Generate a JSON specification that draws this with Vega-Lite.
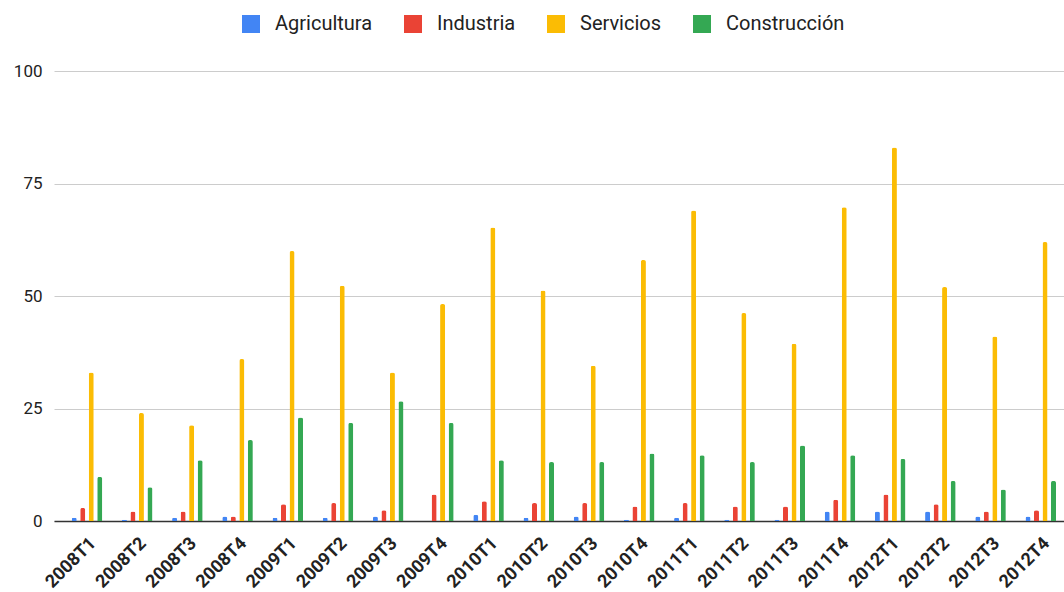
{
  "$schema": "https://vega.github.io/schema/vega-lite/v6.json",
  "width": 1010,
  "height": 450,
  "autosize": {"type": "none"},
  "padding": {"left": 54, "top": 71, "right": 0, "bottom": 71},
  "background": "white",
  "data": {"values": [
    {"t":"2008T1","s":"Agricultura","v":0.7},{"t":"2008T1","s":"Industria","v":2.9},{"t":"2008T1","s":"Servicios","v":33},{"t":"2008T1","s":"Construcción","v":9.8},
    {"t":"2008T2","s":"Agricultura","v":0.3},{"t":"2008T2","s":"Industria","v":2.1},{"t":"2008T2","s":"Servicios","v":24},{"t":"2008T2","s":"Construcción","v":7.5},
    {"t":"2008T3","s":"Agricultura","v":0.7},{"t":"2008T3","s":"Industria","v":2.1},{"t":"2008T3","s":"Servicios","v":21.3},{"t":"2008T3","s":"Construcción","v":13.5},
    {"t":"2008T4","s":"Agricultura","v":1.0},{"t":"2008T4","s":"Industria","v":1.0},{"t":"2008T4","s":"Servicios","v":36},{"t":"2008T4","s":"Construcción","v":18},
    {"t":"2009T1","s":"Agricultura","v":0.7},{"t":"2009T1","s":"Industria","v":3.7},{"t":"2009T1","s":"Servicios","v":60},{"t":"2009T1","s":"Construcción","v":23},
    {"t":"2009T2","s":"Agricultura","v":0.7},{"t":"2009T2","s":"Industria","v":4.0},{"t":"2009T2","s":"Servicios","v":52.3},{"t":"2009T2","s":"Construcción","v":21.8},
    {"t":"2009T3","s":"Agricultura","v":1.0},{"t":"2009T3","s":"Industria","v":2.4},{"t":"2009T3","s":"Servicios","v":33},{"t":"2009T3","s":"Construcción","v":26.6},
    {"t":"2009T4","s":"Agricultura","v":0},{"t":"2009T4","s":"Industria","v":5.9},{"t":"2009T4","s":"Servicios","v":48.2},{"t":"2009T4","s":"Construcción","v":21.8},
    {"t":"2010T1","s":"Agricultura","v":1.4},{"t":"2010T1","s":"Industria","v":4.4},{"t":"2010T1","s":"Servicios","v":65.2},{"t":"2010T1","s":"Construcción","v":13.5},
    {"t":"2010T2","s":"Agricultura","v":0.7},{"t":"2010T2","s":"Industria","v":4.0},{"t":"2010T2","s":"Servicios","v":51.2},{"t":"2010T2","s":"Construcción","v":13.1},
    {"t":"2010T3","s":"Agricultura","v":1.0},{"t":"2010T3","s":"Industria","v":4.0},{"t":"2010T3","s":"Servicios","v":34.5},{"t":"2010T3","s":"Construcción","v":13.1},
    {"t":"2010T4","s":"Agricultura","v":0.3},{"t":"2010T4","s":"Industria","v":3.2},{"t":"2010T4","s":"Servicios","v":58},{"t":"2010T4","s":"Construcción","v":15},
    {"t":"2011T1","s":"Agricultura","v":0.7},{"t":"2011T1","s":"Industria","v":4.0},{"t":"2011T1","s":"Servicios","v":69},{"t":"2011T1","s":"Construcción","v":14.6},
    {"t":"2011T2","s":"Agricultura","v":0.3},{"t":"2011T2","s":"Industria","v":3.2},{"t":"2011T2","s":"Servicios","v":46.2},{"t":"2011T2","s":"Construcción","v":13.1},
    {"t":"2011T3","s":"Agricultura","v":0.3},{"t":"2011T3","s":"Industria","v":3.2},{"t":"2011T3","s":"Servicios","v":39.4},{"t":"2011T3","s":"Construcción","v":16.8},
    {"t":"2011T4","s":"Agricultura","v":2.1},{"t":"2011T4","s":"Industria","v":4.7},{"t":"2011T4","s":"Servicios","v":69.7},{"t":"2011T4","s":"Construcción","v":14.6},
    {"t":"2012T1","s":"Agricultura","v":2.1},{"t":"2012T1","s":"Industria","v":5.9},{"t":"2012T1","s":"Servicios","v":83},{"t":"2012T1","s":"Construcción","v":13.8},
    {"t":"2012T2","s":"Agricultura","v":2.1},{"t":"2012T2","s":"Industria","v":3.7},{"t":"2012T2","s":"Servicios","v":52},{"t":"2012T2","s":"Construcción","v":8.9},
    {"t":"2012T3","s":"Agricultura","v":1.0},{"t":"2012T3","s":"Industria","v":2.1},{"t":"2012T3","s":"Servicios","v":41},{"t":"2012T3","s":"Construcción","v":7.0},
    {"t":"2012T4","s":"Agricultura","v":1.0},{"t":"2012T4","s":"Industria","v":2.4},{"t":"2012T4","s":"Servicios","v":62},{"t":"2012T4","s":"Construcción","v":8.9}
  ]},
  "mark": {"type": "bar", "cornerRadiusTopLeft": 2, "cornerRadiusTopRight": 2},
  "encoding": {
    "x": {
      "field": "t", "type": "nominal", "sort": null,
      "scale": {"paddingInner": 0.3, "paddingOuter": 0.21, "align": 0.73},
      "axis": {"title": null, "labelAngle": -45, "labelFont": "Roboto", "labelFontSize": 18, "labelFontWeight": "bold", "labelColor": "#222222", "ticks": false, "domain": true, "domainColor": "#333333", "domainWidth": 1.5, "labelPadding": 13, "grid": false}
    },
    "xOffset": {"field": "s", "type": "nominal", "sort": ["Agricultura","Industria","Servicios","Construcción"], "scale": {"paddingInner": 0.41, "paddingOuter": 0.27}},
    "y": {
      "field": "v", "type": "quantitative",
      "scale": {"domain": [0, 100]},
      "axis": {"title": null, "values": [0,25,50,75,100], "labelFont": "Roboto", "labelFontSize": 17, "labelColor": "#222222", "ticks": false, "domain": false, "gridColor": "#cccccc", "labelPadding": 12}
    },
    "color": {
      "field": "s", "type": "nominal",
      "scale": {"domain": ["Agricultura","Industria","Servicios","Construcción"], "range": ["#4285F4","#EA4335","#FBBC04","#34A853"]},
      "legend": {"title": null, "orient": "none", "direction": "horizontal", "legendX": 187, "legendY": -57, "symbolType": "square", "symbolSize": 324, "symbolStrokeWidth": 0, "labelFont": "Roboto", "labelFontSize": 20, "labelColor": "#222222", "labelOffset": 14, "columnPadding": 30, "padding": 0}
    }
  },
  "config": {"view": {"stroke": null}}
}
